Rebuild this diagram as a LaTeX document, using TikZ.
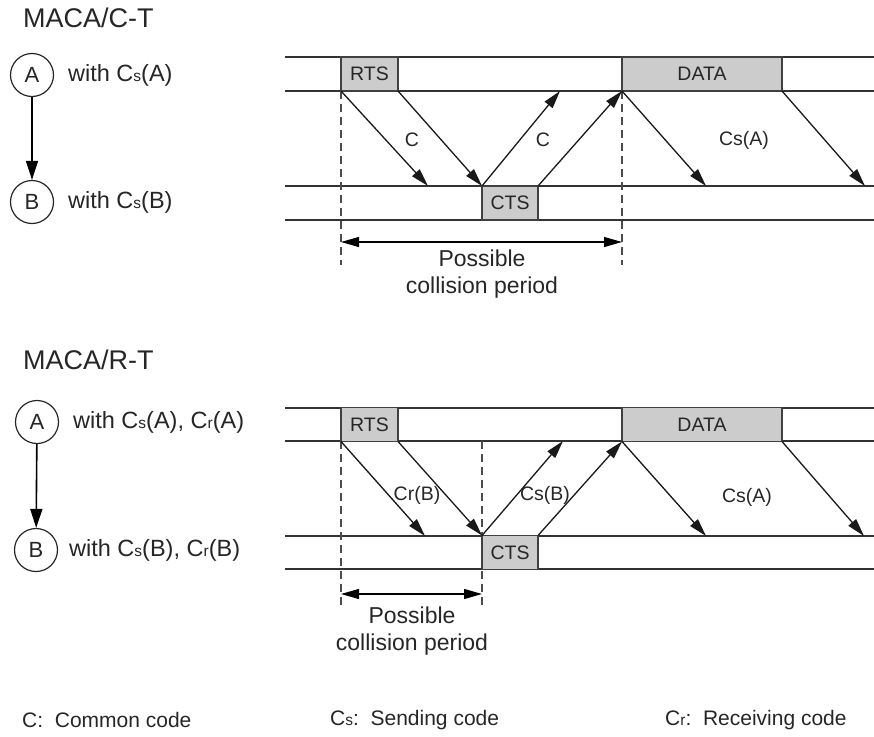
\documentclass[tikz,border=0pt]{standalone}
\usepackage{fontspec}
\setmainfont{Liberation Sans}
\usetikzlibrary{arrows.meta}
\newcommand\lowsub[1]{\raisebox{-0.5pt}{\fontsize{15.5}{15.5}\selectfont #1}}
\begin{document}
\begin{tikzpicture}[x=1pt,y=-1pt,
  tl/.style={line width=1.5pt, draw=black!80},
  pkt/.style={draw=black!75, line width=1.4pt, fill=black!20, minimum height=34pt, inner sep=0pt, outer sep=0pt, font=\fontsize{19.5}{22}\selectfont, text=black!85},
  sig/.style={line width=1.3pt, draw=black!90, -{Triangle[length=18pt,width=10pt]}},
  lbl/.style={font=\fontsize{19.5}{22}\selectfont, text=black!85, inner sep=0pt},
  dsh/.style={line width=1.2pt, draw=black!70, dash pattern=on 8pt off 5pt},
  span/.style={line width=1.3pt, {Triangle[length=18pt,width=10pt]}-{Triangle[length=18pt,width=10pt]}},
  stn/.style={circle, draw=black!85, line width=1.2pt, minimum size=43pt, inner sep=0pt, font=\fontsize{22}{24}\selectfont, text=black!85},
  ttl/.style={anchor=west, inner sep=0pt, font=\fontsize{27}{30}\selectfont, text=black!85},
  wth/.style={anchor=west, inner sep=0pt, font=\fontsize{23.5}{26}\selectfont, text=black!85},
  flow/.style={line width=1.6pt, -{Triangle[length=19pt,width=12pt]}},
  poss/.style={align=center, inner sep=0pt, font=\fontsize{23}{27}\selectfont, text=black!85},
  leg/.style={anchor=west, inner sep=0pt, font=\fontsize{21}{24}\selectfont, text=black!85}
]
\useasboundingbox (0,0) rectangle (874,736);

% ================= MACA/C-T =================
\node[ttl] (t1) at (23,18) {MACA/C-T};
\node[stn] (a1) at (32,75) {A};
\node[stn] (b1) at (32,202) {B};
\node[wth] (wa1) at (68,75) {with C\lowsub{s}(A)};
\node[wth] (wb1) at (68,202) {with C\lowsub{s}(B)};
\draw[flow] (a1) -- (b1);

% timelines
\draw[tl] (285,57) -- (874,57);
\draw[tl] (285,91) -- (874,91);
\draw[tl] (285,186) -- (874,186);
\draw[tl] (285,220) -- (874,220);

% dashed markers
\coordinate (d1s) at (341,91);
\coordinate (d1e) at (341,265);
\coordinate (d2s) at (622,91);
\coordinate (d2e) at (622,265);
\draw[dsh] (d1s) -- (d1e);
\draw[dsh] (d2s) -- (d2e);

% packets
\node[pkt, minimum width=57pt] (rts1) at (369.5,74) {RTS};
\node[pkt, minimum width=56pt] (cts1) at (510,203) {CTS};
\node[pkt, minimum width=160pt] (data1) at (702,74) {DATA};

% signal arrows
\coordinate (e1) at (428,186);
\coordinate (e2) at (560,91);
\coordinate (e3) at (706,186);
\coordinate (e4) at (865,186);
\draw[sig] (rts1.south west) -- (e1);
\draw[sig] (rts1.south east) -- (cts1.north west);
\draw[sig] (cts1.north west) -- (e2);
\draw[sig] (cts1.north east) -- (data1.south west);
\draw[sig] (data1.south west) -- (e3);
\draw[sig] (data1.south east) -- (e4);

\node[lbl] (c1) at (412,140) {C};
\node[lbl] (c2) at (543,140) {C};
\node[lbl] (c3) at (744,140) {Cs(A)};

% collision period
\coordinate (p1l) at (341,242);
\coordinate (p1r) at (622,242);
\draw[span] (p1l) -- (p1r);
\node[poss] (pc1) at (482,274) {Possible\\collision period};

% ================= MACA/R-T =================
\node[ttl] (t2) at (23,360) {MACA/R-T};
\node[stn] (a2) at (37,422) {A};
\node[stn] (b2) at (36,550) {B};
\node[wth] (wa2) at (73,422) {with C\lowsub{s}(A), C\lowsub{r}(A)};
\node[wth] (wb2) at (69,550) {with C\lowsub{s}(B), C\lowsub{r}(B)};
\draw[flow] (a2) -- (b2);

\draw[tl] (285,408) -- (874,408);
\draw[tl] (285,441) -- (874,441);
\draw[tl] (285,536) -- (874,536);
\draw[tl] (285,569) -- (874,569);

\coordinate (d3s) at (341,441);
\coordinate (d3e) at (341,605);
\coordinate (d4s) at (482,441);
\coordinate (d4e) at (482,605);
\draw[dsh] (d3s) -- (d3e);
\draw[dsh] (d4s) -- (d4e);

\node[pkt, minimum width=57pt] (rts2) at (369.5,424.5) {RTS};
\node[pkt, minimum width=56pt] (cts2) at (510,552.5) {CTS};
\node[pkt, minimum width=160pt] (data2) at (702,424.5) {DATA};

\coordinate (f1) at (425,536);
\coordinate (f2) at (563,441);
\coordinate (f3) at (706,536);
\coordinate (f4) at (864,536);
\draw[sig] (rts2.south west) -- (f1);
\draw[sig] (rts2.south east) -- (cts2.north west);
\draw[sig] (cts2.north west) -- (f2);
\draw[sig] (cts2.north east) -- (data2.south west);
\draw[sig] (data2.south west) -- (f3);
\draw[sig] (data2.south east) -- (f4);

\node[lbl] (c4) at (417,495) {Cr(B)};
\node[lbl] (c5) at (545,495) {Cs(B)};
\node[lbl] (c6) at (747,497) {Cs(A)};

\coordinate (p2l) at (341,594);
\coordinate (p2r) at (482,594);
\draw[span] (p2l) -- (p2r);
\node[poss] (pc2) at (412,631) {Possible\\collision period};

% ================= legend =================
\node[leg] (l1) at (22,720) {C:\ \ Common code};
\node[leg] (l2) at (330,720) {C\lowsub{s}:\ \ Sending code};
\node[leg] (l3) at (665,720) {C\lowsub{r}:\ \ Receiving code};
\end{tikzpicture}
\end{document}
